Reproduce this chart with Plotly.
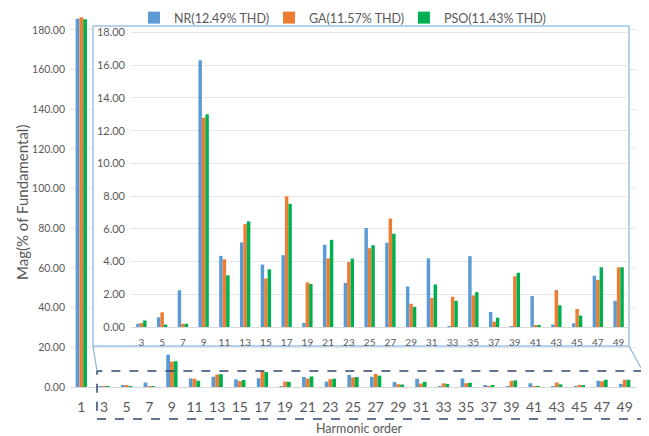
import plotly.graph_objects as go

# harmonic orders and magnitudes (% of fundamental)
harmonics = [1, 3, 5, 7, 9, 11, 13, 15, 17, 19, 21, 23, 25, 27, 29, 31, 33, 35, 37, 39, 41, 43, 45, 47, 49]
nr = [185.6, 0.2, 0.6, 2.25, 16.3, 4.35, 5.17, 3.82, 4.39, 0.25, 5.03, 2.7, 6.05,
      5.15, 2.48, 4.2, 0.02, 4.33, 0.92, 0.05, 1.89, 0.16, 0.23, 3.14, 1.6]
ga = [186.4, 0.25, 0.9, 0.2, 12.8, 4.14, 6.3, 2.97, 8.0, 2.73, 4.2, 3.98, 4.82,
      6.63, 1.42, 1.78, 1.85, 1.93, 0.33, 3.1, 0.08, 2.26, 1.1, 2.87, 3.65]
pso = [185.4, 0.4, 0.15, 0.2, 13.0, 3.16, 6.46, 3.53, 7.53, 2.63, 5.33, 4.18, 5.0,
       5.7, 1.23, 2.6, 1.6, 2.13, 0.57, 3.32, 0.08, 1.33, 0.7, 3.65, 3.65]

series = [
    ("NR(12.49% THD)", nr, "#5B9BD5", "legend"),
    ("GA(11.57% THD)", ga, "#ED7D31", "legend2"),
    ("PSO(11.43% THD)", pso, "#00B050", "legend3"),
]

FONT = "Lato, 'Open Sans', sans-serif"
GREY = "#595959"

fig = go.Figure()
for name, values, color, leg in series:
    fig.add_trace(go.Bar(x=harmonics, y=values, name=name, marker=dict(color=color, line=dict(width=0)),
                         xaxis="x", yaxis="y", legend=leg))
for name, values, color, leg in series:
    fig.add_trace(go.Bar(x=harmonics[1:], y=values[1:], name=name, marker=dict(color=color, line=dict(width=0)),
                         xaxis="x2", yaxis="y2", showlegend=False))

# white panel behind the zoomed inset (covers main gridlines)
fig.add_shape(type="rect", xref="x", yref="y", x0=2.03, x1=49.38, y0=20.7, y1=182.0,
              fillcolor="white", line=dict(color="#9DC3E6", width=1.5), layer="between")
# dashed zoom region + connectors
fig.add_shape(type="rect", xref="paper", yref="paper", x0=0.0477, x1=1.0118, y0=-0.0863, y1=0.0431,
              line=dict(color="#2F4770", width=1.5, dash="dash"))
fig.add_shape(type="line", xref="paper", yref="paper", x0=0.0406, y0=0.1105, x1=0.0477, y1=0.0431,
              line=dict(color="#8FB4D9", width=1.2))
fig.add_shape(type="line", xref="paper", yref="paper", x0=0.9876, y0=0.1105, x1=1.0118, y1=0.0431,
              line=dict(color="#8FB4D9", width=1.2))

leg_style = dict(orientation="h", xanchor="left", y=0.9946, yanchor="middle",
                 font=dict(size=12.5, color=GREY), bgcolor="rgba(0,0,0,0)")

# page has an 8px body margin, so the figure is sized/margined to compensate
fig.update_layout(
    width=641,
    height=428,
    margin=dict(l=62, r=13, t=8, b=49, autoexpand=False),
    paper_bgcolor="white",
    plot_bgcolor="rgba(0,0,0,0)",
    barmode="group",
    bargap=0.5,
    bargroupgap=0,
    font=dict(family=FONT, color=GREY),
    showlegend=True,
    legend=dict(x=0.113, **leg_style),
    legend2=dict(x=0.3516, **leg_style),
    legend3=dict(x=0.590, **leg_style),
    xaxis=dict(range=[0, 50], tickvals=harmonics, ticktext=[str(h) for h in harmonics],
               tickfont=dict(size=14, color=GREY), ticklabelstandoff=7, showgrid=False,
               showline=True, linecolor="#D9D9D9", ticks="", zeroline=False),
    yaxis=dict(range=[0, 187], tickvals=list(range(0, 181, 20)), tickformat=".2f",
               tickfont=dict(size=10.5, color=GREY), showgrid=True, gridcolor="#E6E6E6",
               zeroline=False, ticklabelstandoff=4),
    xaxis2=dict(domain=[0.1078, 0.9876], anchor="y2", range=[2, 50], tickvals=harmonics[1:],
                ticktext=[str(h) for h in harmonics[1:]], tickfont=dict(size=10, color=GREY),
                ticklabelstandoff=6, showgrid=False, showline=True, linecolor="#D9D9D9",
                ticks="", zeroline=False),
    yaxis2=dict(domain=[0.1617, 0.973], anchor="x2", range=[0, 18.4], tickvals=list(range(0, 19, 2)),
                tickformat=".2f", tickfont=dict(size=11, color=GREY), showgrid=True,
                gridcolor="#E6E6E6", zeroline=False, ticklabelstandoff=5),
    annotations=[
        dict(text="Harmonic order", xref="paper", yref="paper", x=0.512, y=-0.112, showarrow=False,
             xanchor="center", yanchor="middle", font=dict(size=12.5, color=GREY)),
        dict(text="Mag(% of Fundamental)", xref="paper", yref="paper", x=-0.0848, y=0.496,
             xanchor="center", yanchor="middle", textangle=-90, showarrow=False,
             font=dict(size=15, color=GREY)),
    ],
)

fig.write_html("out.html")
